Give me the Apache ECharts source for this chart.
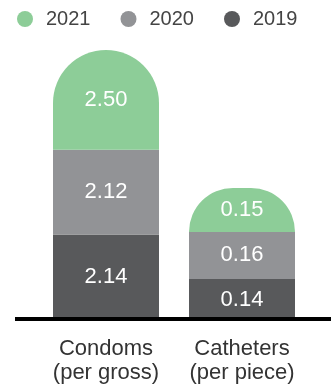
<!DOCTYPE html>
<html>
<head>
<meta charset="utf-8">
<style>
  html, body { margin: 0; padding: 0; background: #fff; }
  #chart { width: 334px; height: 392px; }
</style>
<script src="https://cdn.jsdelivr.net/npm/echarts@6/dist/echarts.min.js"></script>
</head>
<body>
<div id="chart"></div>
<script>
// Unit prices by year, two product groups
const categories = ['Condoms\n(per gross)', 'Catheters\n(per piece)'];
const years = ['2019', '2020', '2021'];
const condoms = [2.14, 2.12, 2.50];    // 2019, 2020, 2021
const catheters = [0.14, 0.16, 0.15];  // 2019, 2020, 2021
const legendOrder = ['2021', '2020', '2019'];

const colors = { '2019': '#58595b', '2020': '#929396', '2021': '#8dcd98' };
const FONT = "'Liberation Sans', Arial, sans-serif";

const chart = echarts.init(document.getElementById('chart'));

function barSeries(values, axisIndex) {
  return years.map((y, i) => ({
    name: y,
    type: 'bar',
    stack: 'total' + axisIndex,
    xAxisIndex: axisIndex,
    yAxisIndex: axisIndex,
    barWidth: 106,
    data: [values[i]],
    itemStyle: {
      color: colors[y],
      borderRadius: y === '2021' ? [53, 53, 0, 0] : 0
    },
    label: {
      show: true,
      position: 'inside',
      color: '#ffffff',
      fontFamily: FONT,
      fontSize: 22,
      formatter: p => p.value.toFixed(2)
    },
    emphasis: { disabled: true }
  }));
}

const xAxisBase = {
  type: 'category',
  axisLine: { show: false },
  axisTick: { show: false },
  axisLabel: {
    margin: 17,
    color: '#333333',
    fontFamily: FONT,
    fontSize: 22,
    lineHeight: 24
  }
};

chart.setOption({
  animation: false,
  legend: {
    data: legendOrder,
    icon: 'circle',
    itemWidth: 16,
    itemHeight: 16,
    itemGap: 30,
    left: 12,
    top: 4,
    textStyle: {
      color: '#444444',
      fontFamily: FONT,
      fontSize: 20,
      padding: [0, 0, 0, 8]
    },
    selectedMode: false
  },
  grid: [
    { left: 38, width: 136, top: 50, bottom: 72 },
    { left: 174, width: 136, top: 50, bottom: 72 }
  ],
  xAxis: [
    Object.assign({ gridIndex: 0, data: [categories[0]] }, xAxisBase),
    Object.assign({ gridIndex: 1, data: [categories[1]] }, xAxisBase)
  ],
  yAxis: [
    { gridIndex: 0, type: 'value', min: 0, max: 'dataMax', show: false },
    { gridIndex: 1, type: 'value', min: 0, max: 0.92, show: false }
  ],
  series: barSeries(condoms, 0).concat(barSeries(catheters, 1)),
  graphic: [{
    type: 'line',
    z: 100,
    shape: { x1: 15, y1: 319, x2: 331, y2: 319 },
    style: { stroke: '#000000', lineWidth: 4 }
  }]
});
</script>
</body>
</html>
